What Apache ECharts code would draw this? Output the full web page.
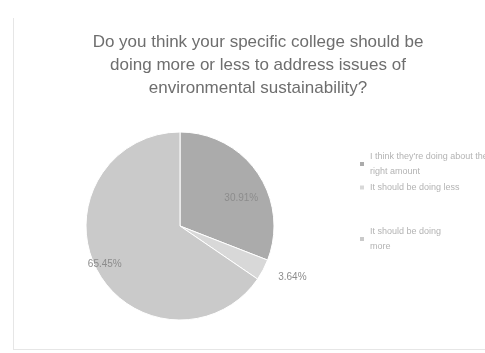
<!DOCTYPE html>
<html>
<head>
<meta charset="utf-8">
<script src="https://cdn.jsdelivr.net/npm/echarts@6/dist/echarts.min.js"></script>
<style>
  html, body { margin: 0; padding: 0; background: #fff; }
  #frame { position: absolute; left: 13px; top: 18px; width: 480px; height: 331px;
           border-left: 1px solid #e6e6e6; border-bottom: 1px solid #e6e6e6; }
  #chart { position: absolute; left: 0; top: 0; width: 485px; height: 353px; }
</style>
</head>
<body>
<div id="frame"></div>
<div id="chart"></div>
<script>
// Survey answers and their shares (percent of respondents)
const categories = [
  "I think they're doing about the right amount",
  "It should be doing less",
  "It should be doing more"
];
const legendLabels = [
  "I think they're doing about the\nright amount",
  "It should be doing less",
  "It should be doing\nmore"
];
const shares = [30.91, 3.64, 65.45];
const sliceColors = ['#ababab', '#d8d8d8', '#cacaca'];
// Label placement per slice
const labelPositions = ['inside', 'outside', 'inside'];
const labelOffsets = [[20, 0], [3, 4], [-31, 15]];
const legendTops = [144, 175, 219];

const chart = echarts.init(document.getElementById('chart'), null, { renderer: 'canvas' });

const data = categories.map((name, i) => ({
  name: name,
  value: shares[i],
  itemStyle: { color: sliceColors[i] },
  label: { position: labelPositions[i] }
}));

const legends = categories.map((name, i) => ({
  orient: 'vertical',
  left: 353,
  top: legendTops[i],
  itemWidth: 6,
  itemHeight: 6,
  icon: 'rect',
  data: [name],
  formatter: function () { return legendLabels[i]; },
  textStyle: {
    fontFamily: 'Liberation Sans, Arial, sans-serif',
    fontSize: 9,
    color: '#b3b3b3',
    lineHeight: 15
  }
}));

chart.setOption({
  animation: false,
  backgroundColor: 'transparent',
  title: {
    text: 'Do you think your specific college should be\ndoing more or less to address issues of\nenvironmental sustainability?',
    left: 253,
    top: 26,
    textAlign: 'center',
    textStyle: {
      fontFamily: 'Liberation Sans, Arial, sans-serif',
      fontSize: 17,
      fontWeight: 'normal',
      color: '#6e6e6e',
      lineHeight: 23
    }
  },
  legend: legends,
  series: [{
    type: 'pie',
    center: [180, 226],
    radius: 94,
    startAngle: 90,
    clockwise: true,
    data: data,
    itemStyle: { borderColor: '#ffffff', borderWidth: 1 },
    label: {
      show: true,
      formatter: function (p) { return p.value.toFixed(2) + '%'; },
      fontFamily: 'Liberation Sans, Arial, sans-serif',
      fontSize: 10,
      color: '#8c8c8c'
    },
    labelLine: { show: false, length: 8, length2: 0 },
    labelLayout: function (params) {
      const off = labelOffsets[params.dataIndex];
      return { dx: off[0], dy: off[1] };
    },
    emphasis: { disabled: true }
  }]
});
</script>
</body>
</html>
